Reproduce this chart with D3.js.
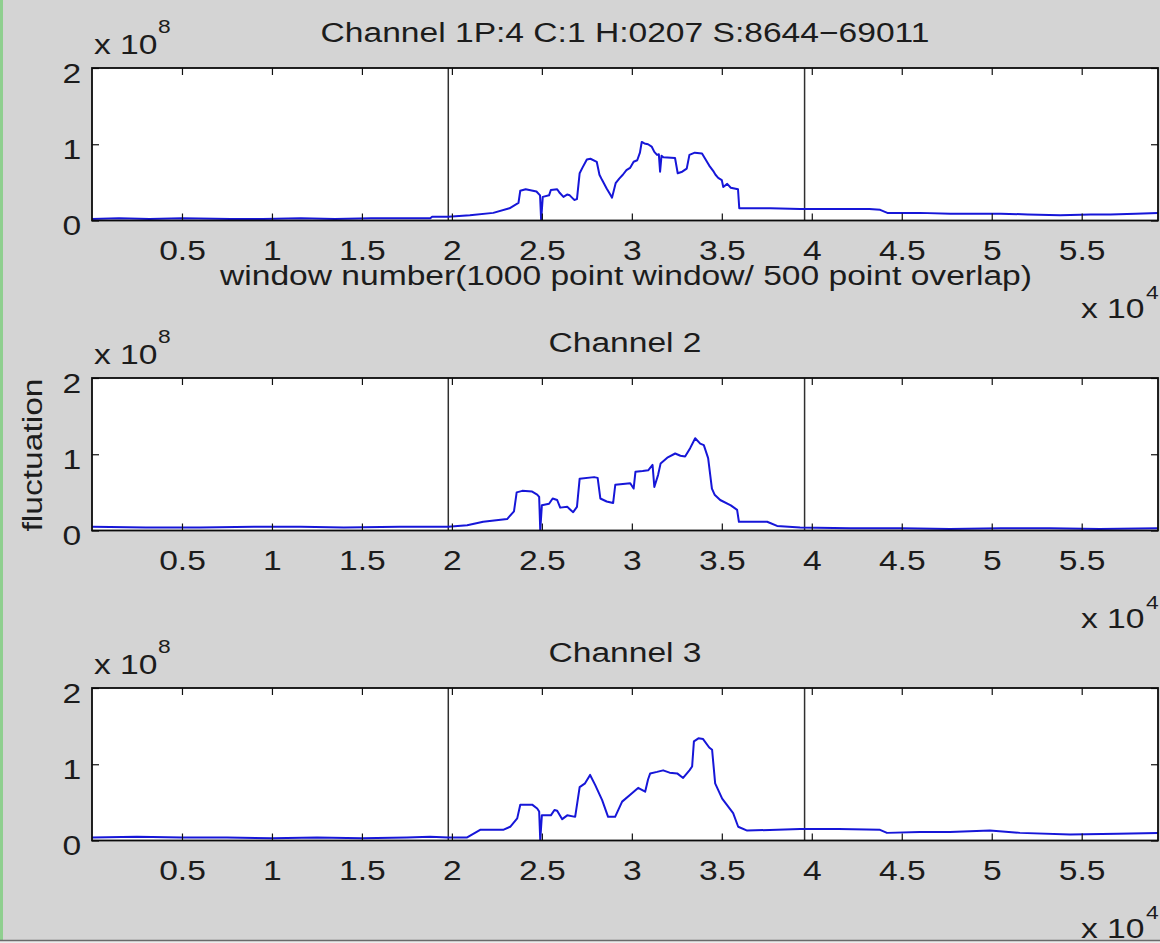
<!DOCTYPE html>
<html>
<head>
<meta charset="utf-8">
<script src="https://cdn.jsdelivr.net/npm/d3@7"></script>
<style>
  html, body { margin: 0; padding: 0; background: #d4d4d4; }
  svg { display: block; }
  text { font-family: "Liberation Sans", Arial, Helvetica, sans-serif; }
</style>
</head>
<body>
<svg id="fig" width="1160" height="943"></svg>
<script>
// Panel titles
const channelTitles = [
  "Channel 1P:4 C:1 H:0207 S:8644\u221269011",
  "Channel 2",
  "Channel 3"
];

// Axis ticks (window number, fluctuation in units of 1e8)
const xTickValues = [5000, 10000, 15000, 20000, 25000, 30000, 35000, 40000, 45000, 50000, 55000];
const yTickValues = [0, 1, 2];
const xDomain = [0, 59240];
const yDomain = [0, 2];

// Window numbers of the two segment boundaries
const markerWindows = [19800, 39600];

// Fluctuation per window, [window number, fluctuation / 1e8]
const ch1 = [[0,0.02],[1500,0.03],[3200,0.02],[5000,0.03],[7700,0.02],[9500,0.02],[11600,0.03],[13500,0.02],[15500,0.03],[17000,0.03],[18800,0.03],[18900,0.05],[19800,0.05],[21000,0.07],[22300,0.10],[23200,0.16],[23700,0.23],[23800,0.39],[24100,0.41],[24700,0.38],[24900,0.33],[24960,0.0],[25050,0.31],[25400,0.33],[25500,0.40],[25850,0.41],[26000,0.36],[26200,0.31],[26400,0.34],[26550,0.33],[26800,0.27],[26950,0.28],[27100,0.62],[27250,0.69],[27500,0.80],[27700,0.81],[28050,0.77],[28200,0.60],[28350,0.53],[28600,0.42],[28800,0.34],[28900,0.30],[29100,0.49],[29300,0.55],[29500,0.60],[29700,0.66],[29900,0.69],[30100,0.77],[30300,0.79],[30450,0.89],[30550,1.03],[30700,1.01],[30900,1.00],[31100,0.97],[31250,0.90],[31400,0.86],[31500,0.87],[31570,0.64],[31650,0.85],[31750,0.83],[32400,0.82],[32550,0.62],[32800,0.64],[33050,0.68],[33200,0.86],[33500,0.89],[33900,0.88],[34100,0.80],[34300,0.72],[34550,0.64],[34650,0.60],[34800,0.56],[35000,0.53],[35080,0.44],[35300,0.48],[35500,0.43],[35900,0.41],[35970,0.16],[37700,0.16],[39350,0.15],[41600,0.15],[43200,0.15],[43800,0.14],[44200,0.10],[46000,0.10],[47700,0.09],[50500,0.09],[52000,0.08],[53800,0.07],[55500,0.08],[56600,0.08],[58000,0.09],[59240,0.10]];

const ch2 = [[0,0.05],[3000,0.04],[6000,0.04],[9000,0.05],[11600,0.05],[14000,0.04],[17100,0.05],[19800,0.05],[20850,0.07],[21740,0.115],[23070,0.15],[23450,0.25],[23600,0.50],[23910,0.52],[24460,0.51],[24740,0.47],[24850,0.44],[24910,0.0],[25000,0.33],[25400,0.35],[25600,0.42],[25850,0.40],[26020,0.30],[26410,0.31],[26600,0.27],[26740,0.24],[26950,0.31],[27100,0.68],[27900,0.70],[28100,0.69],[28250,0.42],[28600,0.38],[28960,0.36],[29080,0.60],[29500,0.61],[29910,0.62],[30100,0.55],[30200,0.77],[30600,0.78],[30910,0.79],[31150,0.86],[31250,0.57],[31460,0.73],[31600,0.88],[32000,0.96],[32410,1.01],[32700,0.98],[32960,0.97],[33240,1.08],[33520,1.21],[33800,1.14],[34000,1.12],[34240,0.95],[34450,0.55],[34600,0.47],[34910,0.40],[35500,0.33],[35850,0.27],[35950,0.115],[37520,0.115],[38070,0.06],[39350,0.04],[42130,0.03],[45000,0.03],[47680,0.02],[50500,0.03],[53230,0.03],[56000,0.02],[59240,0.03]];

const ch3 = [[0,0.04],[2500,0.05],[5000,0.04],[7500,0.04],[10000,0.03],[12500,0.04],[15000,0.03],[17500,0.04],[18790,0.05],[19800,0.04],[20850,0.04],[21570,0.14],[22850,0.14],[23240,0.18],[23630,0.29],[23800,0.47],[24460,0.47],[24740,0.42],[24850,0.38],[24910,0.0],[25000,0.33],[25500,0.33],[25700,0.40],[25850,0.39],[26130,0.28],[26410,0.33],[26850,0.31],[27100,0.70],[27400,0.75],[27680,0.86],[27960,0.73],[28350,0.53],[28680,0.31],[29070,0.31],[29460,0.51],[29910,0.60],[30200,0.66],[30350,0.69],[30740,0.64],[30900,0.80],[31020,0.88],[31400,0.90],[31740,0.92],[32100,0.89],[32520,0.88],[32850,0.82],[33200,0.92],[33350,0.97],[33450,1.30],[33700,1.34],[33960,1.33],[34300,1.22],[34460,1.19],[34630,0.75],[35020,0.55],[35630,0.36],[35910,0.18],[36410,0.13],[39350,0.15],[41500,0.15],[43790,0.14],[44180,0.10],[46000,0.11],[47680,0.11],[49900,0.13],[51570,0.10],[54350,0.08],[57000,0.09],[59240,0.10]];

const channels = [ch1, ch2, ch3];

// ---- figure layout ----
const W = 1160, H = 943;
const FONT = 28;        // label font size
const SX = 1.2;         // horizontal widening of the glyphs
const plotLeft = 92, plotRight = 1158;
const plotTops = [68, 378, 688];
const plotH = 152.5;
const textColor = "#1c1c1c";

const svg = d3.select("#fig");

svg.append("rect").attr("width", W).attr("height", H).attr("fill", "#d4d4d4");
svg.append("rect").attr("x", 0).attr("y", 0).attr("width", 3).attr("height", H).attr("fill", "#8fcf8f");
svg.append("rect").attr("x", 0).attr("y", 941).attr("width", W).attr("height", 2).attr("fill", "#ececec");
svg.append("line").attr("x1", 0).attr("x2", W).attr("y1", 940.5).attr("y2", 940.5)
  .attr("stroke", "#6a6a6a").attr("stroke-width", 1.5);

const x = d3.scaleLinear().domain(xDomain).range([plotLeft, plotRight]);
const y = d3.scaleLinear().domain(yDomain).range([plotH, 0]);

const line = d3.line().x(d => x(d[0])).y(d => y(d[1]));

function styleText(sel, size) {
  return sel.attr("font-size", size).attr("fill", textColor)
     .attr("font-family", "'Liberation Sans', Arial, Helvetica, sans-serif");
}

// text placed at (px, py), widened horizontally about its anchor
function label(parent, px, py, str, size, anchor, rotate) {
  const t = parent.append("text")
    .attr("transform", `translate(${px},${py})` + (rotate ? ` rotate(${rotate})` : "") + ` scale(${SX},1)`)
    .attr("text-anchor", anchor || "start")
    .text(str);
  return styleText(t, size);
}

channels.forEach((data, i) => {
  const top = plotTops[i];
  const g = svg.append("g").attr("transform", `translate(0,${top})`);

  g.append("clipPath").attr("id", "clip" + i)
    .append("rect").attr("x", plotLeft).attr("y", 0)
    .attr("width", plotRight - plotLeft).attr("height", plotH);

  g.append("rect").attr("x", plotLeft).attr("y", 0)
    .attr("width", plotRight - plotLeft).attr("height", plotH).attr("fill", "#ffffff");

  // segment boundaries
  g.selectAll("line.marker").data(markerWindows).join("line")
    .attr("class", "marker")
    .attr("x1", d => x(d)).attr("x2", d => x(d))
    .attr("y1", 0).attr("y2", plotH)
    .attr("stroke", "#303030").attr("stroke-width", 1.5);

  // fluctuation trace
  g.append("path").datum(data)
    .attr("clip-path", `url(#clip${i})`)
    .attr("fill", "none").attr("stroke", "#1616d8").attr("stroke-width", 2)
    .attr("stroke-linejoin", "round")
    .attr("d", line);

  // bottom axis with labels, inward ticks
  const xb = g.append("g").attr("transform", `translate(0,${plotH})`)
    .call(d3.axisBottom(x).tickValues(xTickValues).tickSize(-7).tickPadding(20)
      .tickFormat(d => String(d / 1e4)));
  // top axis ticks
  const xt = g.append("g")
    .call(d3.axisTop(x).tickValues(xTickValues).tickSize(-7).tickFormat(""));
  // left axis with labels
  const yl = g.append("g").attr("transform", `translate(${plotLeft},0)`)
    .call(d3.axisLeft(y).tickValues(yTickValues).tickSize(-7).tickPadding(9).tickFormat(d3.format("d")));
  // right axis ticks
  const yr = g.append("g").attr("transform", `translate(${plotRight},0)`)
    .call(d3.axisRight(y).tickValues(yTickValues).tickSize(-7).tickFormat(""));

  [xb, xt, yl, yr].forEach(a => {
    a.select(".domain").remove();
    a.selectAll(".tick line").attr("stroke", "#111").attr("stroke-width", 1.2);
    styleText(a.selectAll("text"), FONT).attr("transform", `scale(${SX},1)`);
  });
  yl.selectAll("text").attr("dy", "0.5em");

  // frame
  g.append("rect").attr("x", plotLeft).attr("y", 0)
    .attr("width", plotRight - plotLeft).attr("height", plotH)
    .attr("fill", "none").attr("stroke", "#0a0a0a").attr("stroke-width", 1.8);

  // title
  label(g, 625, 42 - 68, channelTitles[i], FONT, "middle");

  // y exponent label
  label(g, 94, 54 - 68, "x 10", FONT);
  label(g, 158, 33 - 68, "8", 19);

  // x exponent label
  label(g, 1081, 318 - 68, "x 10", FONT);
  label(g, 1146, 299 - 68, "4", 19);
});

// x axis label under the first panel
label(svg, 626, 285, "window number(1000 point window/ 500 point overlap)", FONT, "middle");

// y axis label
label(svg, 42, 455, "fluctuation", FONT, "middle", -90);
</script>
</body>
</html>
